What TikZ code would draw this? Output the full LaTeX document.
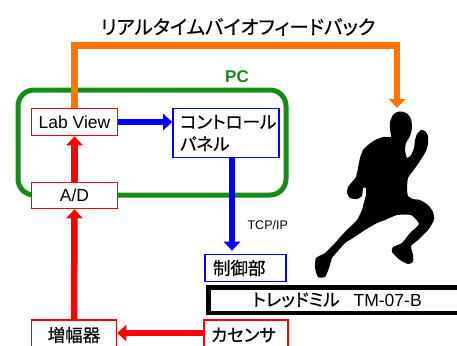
\documentclass[tikz,border=0pt]{standalone}
\usepackage{fontspec}
\setmainfont{Liberation Sans}
\newfontfamily\jp[RawFeature=+palt, FakeBold=0.5]{Noto Sans CJK JP}
\usetikzlibrary{arrows.meta}
\definecolor{fbOrange}{RGB}{255,117,0}
\definecolor{pcGreen}{RGB}{22,140,22}
\newcommand{\bigtxt}{\fontsize{17.5}{22}\selectfont}
\begin{document}
\begin{tikzpicture}[x=1pt,y=-1pt,
  box/.style={draw=#1, line width=1.6pt, fill=white, inner sep=0pt,
    font=\bigtxt},
  redbox/.style={box=red},
  bluebox/.style={box=blue},
  thick link/.style={line width=6.5pt, line join=miter},
  redlink/.style={thick link, draw=red, -{Triangle[length=9pt,width=16pt]}},
  bluelink/.style={thick link, draw=blue, -{Triangle[length=9pt,width=16pt]}},
  orangelink/.style={thick link, draw=fbOrange, -{Triangle[length=9pt,width=16pt]}},
]
\clip (0,0) rectangle (457,345);
\fill[white] (0,0) rectangle (457,345);

% title of the feedback loop
\node[font={\jp\fontsize{19.5}{23}\selectfont}] (title) at (238,27)
  {リアルタイムバイオフィードバック};

% PC enclosure
\draw[pcGreen, line width=5pt, rounded corners=16pt] (18,90) rectangle (286,195);
\node[font=\bfseries\fontsize{17}{20}\selectfont, text=pcGreen] (pclabel) at (237,77) {PC};

% blocks
\node[redbox, minimum width=86pt, minimum height=27pt] (labview) at (74.5,122) {Lab View};
\node[bluebox, minimum height=49pt, text width=92pt, inner xsep=7pt, align=left]
  (panel) at (226,133) {{\jp コントロール}\\{\jp パネル}};
\node[redbox, minimum width=86pt, minimum height=26pt] (ad) at (74.5,195.5) {A/D};
\node[bluebox, minimum height=27pt, text width=65pt, inner xsep=8pt, align=left]
  (seigyo) at (245.5,268) {\jp 制御部};
\node[draw=black, line width=4.5pt, minimum width=290pt, minimum height=25.5pt,
  anchor=west, inner sep=0pt] (treadmill) at (206.25,300) {};
\node[font=\bigtxt] (tmlabel) at (337,300)
  {{\jp トレッドミル}\hspace{14pt}TM-07-B};
\node[redbox, minimum height=30pt, text width=70pt, inner xsep=7pt, align=left]
  (kasensa) at (246,335) {\jp カセンサ};
\node[redbox, minimum width=85pt, minimum height=30pt] (zofuku) at (74,335) {\jp 増幅器};

% runner silhouette
\coordinate (runnerhead) at (397,108);
\fill[black] plot[smooth cycle, tension=0.35] coordinates {
  (401.5,111.5) (407,113.5) (411,119) (412,127) (411,133) (409,138)
  (406,143) (405,150) (407,158) (411,155) (414,148) (415,140) (417,134)
  (421,130) (425,131) (428,136) (428,144) (426,151) (420,161) (413,171)
  (408,178) (407,188) (408,196) (413,199) (420,200) (428,205) (433,212)
  (434,220) (428,230) (418,240) (411,246) (413,255) (413,262) (408,264)
  (400,260) (392,252) (393,247) (402,243) (410,233) (419,224) (411,215)
  (397,215) (385,220) (377,223) (365,230) (353,238) (345,243) (337,252)
  (332,258) (329,268) (325,277) (318,277) (315,268) (316,258) (325,253)
  (335,243) (342,235) (350,227) (357,220) (362,210) (364,202) (366,195)
  (366,188) (363,188) (362,196) (357,199) (350,198) (347,193) (348,187)
  (352,182) (356,177) (358,168) (360,158) (363,150) (368,145) (375,140)
  (383,137) (391,137) (390,130) (390,122) (393,115) (397,112)
};

% connectors
\draw[orangelink] (labview.north) -- (labview.north |- 0,45.5) -| (runnerhead);
\draw[bluelink] (labview.east) -- (panel.west |- labview.east);
\draw[bluelink, shorten >=3pt] ([xshift=6pt]panel.south) -- ([xshift=6pt]panel.south |- seigyo.north)
  node[pos=0.7, right=9pt, font=\fontsize{12.5}{14}\selectfont] (tcpip) {TCP/IP};
\draw[redlink] (ad.north) -- (labview.south);
\draw[redlink] (zofuku.north) -- (ad.south);
\draw[redlink] ([yshift=2pt]kasensa.west) -- ([yshift=2pt]kasensa.west -| zofuku.east);
\end{tikzpicture}
\end{document}
